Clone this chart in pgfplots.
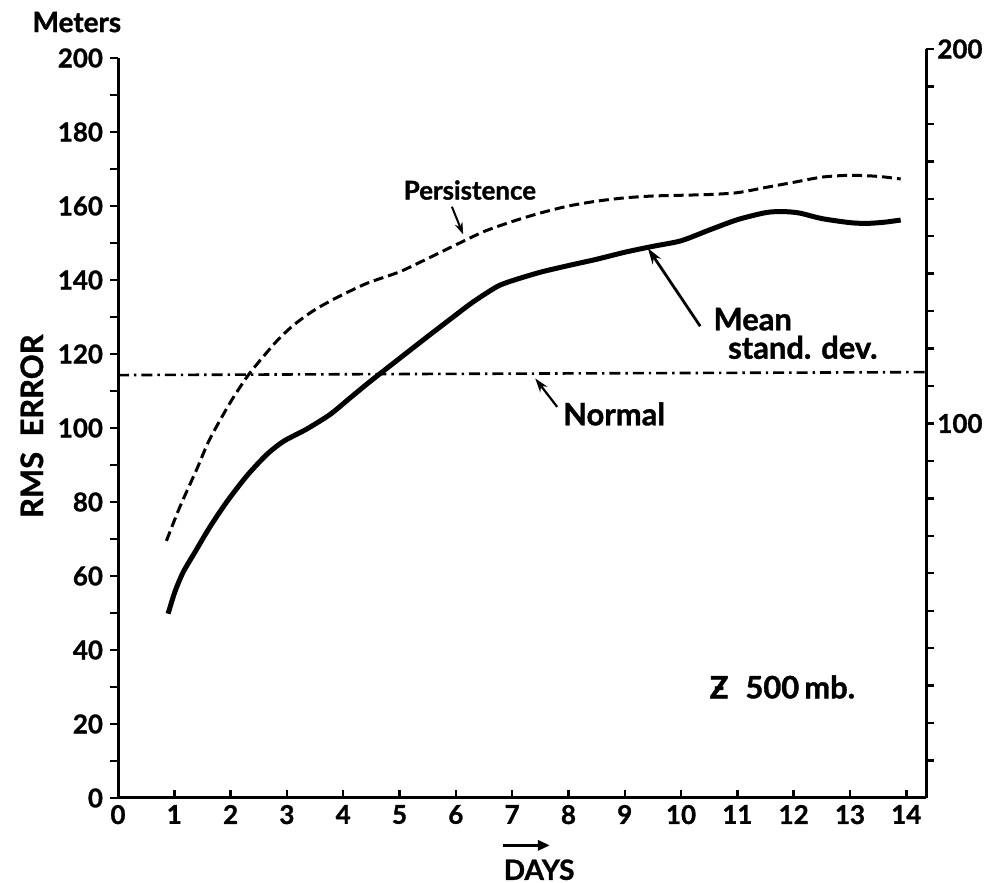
\documentclass[border=0pt]{standalone}
\usepackage{fontspec}
\setmainfont{Lato}[BoldFeatures={FakeBold=1.2}]
\usepackage{pgfplots}
\pgfplotsset{compat=1.18}
\usetikzlibrary{arrows.meta}
\newcommand{\lab}{\bfseries\fontsize{13}{15}\selectfont}
\newcommand{\annfont}{\bfseries\fontsize{15.5}{18}\selectfont}
\begin{document}
\begin{tikzpicture}[font=\lab]
\useasboundingbox (-59bp,-42.5bp) rectangle (434bp,399bp);
\begin{axis}[
  at={(0,0)}, anchor=south west,
  width=404bp, height=370bp, scale only axis,
  xmin=0, xmax=14.35, ymin=0, ymax=200,
  axis x line*=bottom, axis y line*=left,
  axis line style={line width=1.5bp, -},
  xtick={0,1,...,14}, ytick={0,20,...,200}, minor ytick={10,30,...,190},
  xtick align=inside, ytick align=outside,
  major tick length=4bp, minor tick length=4bp,
  tick style={black, line width=1.2bp},
  ticklabel style={font=\lab},
  /pgf/number format/assume math mode=true,
  clip=false,
]
% Mean standard deviation
\addplot[black, line width=2.5bp, smooth, tension=0.45] coordinates {
(0.89,49.8) (1.01,55.7) (1.16,61.1) (1.40,67.3) (1.63,73.2) (1.93,80.0)
(2.29,87.1) (2.64,92.8) (2.94,96.4) (3.35,99.7) (3.77,103.7) (4.12,108.1)
(4.48,112.6) (5.0,118.8) (5.48,124.5) (5.9,129.4) (6.3,134) (6.73,138.2)
(7.0,139.8) (7.5,142.1) (8.0,143.9) (8.5,145.6) (9.0,147.5) (9.5,149.1)
(10.0,150.6) (10.5,153.5) (11.0,156.3) (11.5,158.2) (11.8,158.5) (12.1,158.1)
(12.5,156.6) (13.0,155.5) (13.3,155.3) (13.6,155.6) (13.9,156.2)
};
% Persistence
\addplot[black, line width=1.5bp, dash pattern=on 5bp off 2.5bp, smooth, tension=0.45] coordinates {
(0.86,69.5) (1.04,76.5) (1.16,80.8) (1.40,88.9) (1.63,97.0) (1.99,106.8)
(2.29,113.8) (2.52,118.2) (2.82,123.5) (3.11,127.7) (3.47,131.7) (3.88,135.2)
(4.42,139.1) (5.0,142.2) (5.5,145.8) (6.0,149.5) (6.5,153.1) (7.0,155.8)
(7.5,158.1) (8.0,160) (8.5,161.3) (9.0,162.2) (9.5,162.7) (10.0,162.9)
(10.5,163.1) (11.0,163.6) (11.5,165) (12.0,166.4) (12.5,167.8) (13.0,168.3)
(13.5,168) (13.9,167.3)
};
% Normal
\addplot[black, line width=1.3bp, dash pattern=on 5.5bp off 2.5bp on 1.2bp off 2.5bp] coordinates {
(0,114.3) (14.35,115.1)
};
\node[inner sep=0] at (axis cs:6.25,164.3) {Persistence};
\draw[-{Stealth[length=6bp,width=4bp]}, line width=1bp] (axis cs:5.93,159.8) -- (axis cs:6.13,152.3);
\node[anchor=west, inner sep=0, font=\annfont] at (axis cs:10.57,129.4) {Mean};
\node[anchor=west, inner sep=0, font=\annfont] at (axis cs:10.83,121.8) {stand. dev.};
\draw[-{Stealth[length=8bp,width=5bp]}, line width=1.4bp] (axis cs:10.34,127.5) -- (axis cs:9.41,148.6);
\node[anchor=west, inner sep=0, font=\annfont] at (axis cs:7.9,103.8) {Normal};
\draw[-{Stealth[length=7bp,width=4.5bp]}, line width=1.1bp] (axis cs:7.8,105.7) -- (axis cs:7.41,113.4);
\node[inner sep=0, font=\annfont] at (axis cs:11.8,30) {\ooalign{Z\cr\hidewidth\raisebox{0.05ex}{-}\hidewidth\cr}\hspace{0.55em}500\,mb.};
\node[inner sep=0, font=\bfseries\fontsize{14}{16}\selectfont] at (axis cs:7.48,-19.4) {DAYS};
\draw[-{Triangle[length=6bp,width=5bp]}, line width=1.5bp] (axis cs:6.84,-12.8) -- (axis cs:7.67,-12.8);
\node[inner sep=0, font=\bfseries\fontsize{14}{16}\selectfont] at (axis cs:-0.73,209.7) {Meters};
\node[inner sep=0, rotate=90, font=\bfseries\fontsize{15.5}{18}\selectfont] at (axis cs:-1.53,100.5) {RMS\hspace{0.5em}ERROR};
\end{axis}
\begin{axis}[
  at={(0,0)}, anchor=south west,
  width=404bp, height=374.5bp, scale only axis,
  xmin=0, xmax=14.35, ymin=0, ymax=200,
  axis x line=none, axis y line*=right,
  axis line style={line width=1.5bp, -},
  ytick={100,200}, minor ytick={10,20,...,190},
  ytick align=outside,
  major tick length=4bp, minor tick length=4bp,
  tick style={black, line width=1.2bp},
  yticklabel style={font=\lab, inner sep=1.5bp},
  /pgf/number format/assume math mode=true,
]
\end{axis}
\end{tikzpicture}
\end{document}
